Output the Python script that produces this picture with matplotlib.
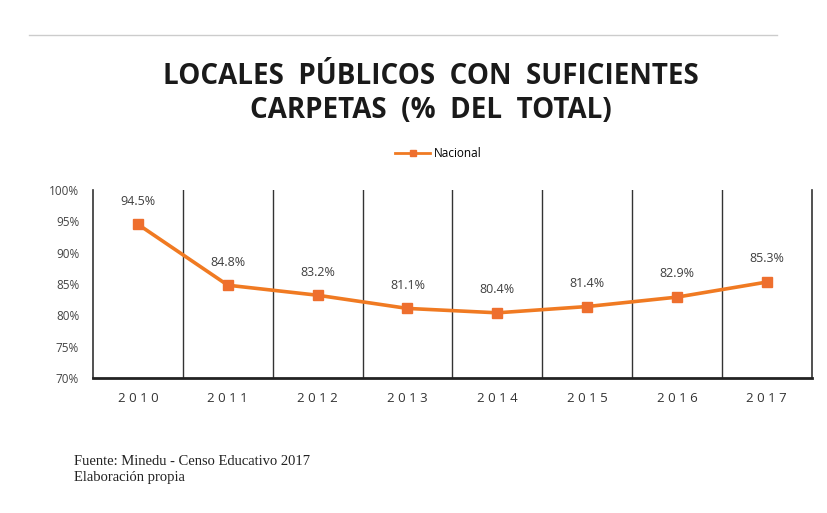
import matplotlib
matplotlib.use("Agg")
import matplotlib.pyplot as plt
from matplotlib.lines import Line2D

years = ["2010", "2011", "2012", "2013", "2014", "2015", "2016", "2017"]
nacional = [94.5, 84.8, 83.2, 81.1, 80.4, 81.4, 82.9, 85.3]
yticks = [70, 75, 80, 85, 90, 95, 100]
title = "LOCALES  PÚBLICOS  CON  SUFICIENTES\nCARPETAS  (%  DEL  TOTAL)"
series_name = "Nacional"
source_lines = ["Fuente: Minedu - Censo Educativo 2017", "Elaboración propia"]

fig = plt.figure(figsize=(8.27, 5.13), dpi=100)
fig.patch.set_facecolor("white")
ax = fig.add_axes([0.1125, 0.263, 0.869, 0.367])

x = list(range(len(years)))
orange = "#F07A22"
ax.plot(x, nacional, color=orange, lw=2.6, marker="s", markersize=7,
        markerfacecolor="#EE6F2E", markeredgecolor="#EE6F2E", zorder=3)
for xi, v in zip(x, nacional):
    ax.annotate(f"{v:.1f}%", (xi, v), xytext=(0, 12), textcoords="offset points",
                ha="center", va="bottom", fontsize=9, color="#404040", family="Open Sans")

ax.set_xlim(-0.5, len(years) - 0.5)
ax.set_ylim(70, 100)
ax.set_yticks(yticks)
ax.set_yticklabels([f"{t}%" for t in yticks], fontsize=8.5, color="#444444", family="Open Sans")
ax.set_xticks(x)
ax.set_xticklabels([" ".join(y) for y in years], fontsize=9.5, color="#333333", family="Open Sans")
ax.tick_params(axis="both", length=0)
ax.tick_params(axis="y", pad=10)
ax.tick_params(axis="x", pad=10)
for b in range(1, len(years)):
    ax.axvline(b - 0.5, color="#333333", lw=1.0, zorder=1)
for s in ["left", "right"]:
    ax.spines[s].set_color("#333333")
    ax.spines[s].set_linewidth(1.2)
ax.spines["bottom"].set_color("#222222")
ax.spines["bottom"].set_linewidth(2.0)
ax.spines["top"].set_visible(False)

fig.text(0.521, 0.818, title, ha="center", va="center", fontsize=20, fontweight="bold",
         color="#1a1a1a", family="Open Sans", linespacing=1.2)

handle = Line2D([0], [0], color=orange, lw=2, marker="s", markersize=5,
                markerfacecolor="#EE6F2E", markeredgecolor="#EE6F2E")
fig.legend([handle], [series_name], loc="center", bbox_to_anchor=(0.53, 0.70),
           frameon=False, handlelength=3, handletextpad=0.3,
           prop={"family": "Open Sans", "size": 8.5})

fig.add_artist(Line2D([0.035, 0.94], [0.932, 0.932], color="#cccccc", lw=1.0))

fig.text(0.09, 0.085, "\n".join(source_lines), ha="left", va="center", fontsize=10.5,
         family="Liberation Serif", color="#222222", linespacing=1.25)

fig.savefig("out.png", dpi=100, facecolor="white")
